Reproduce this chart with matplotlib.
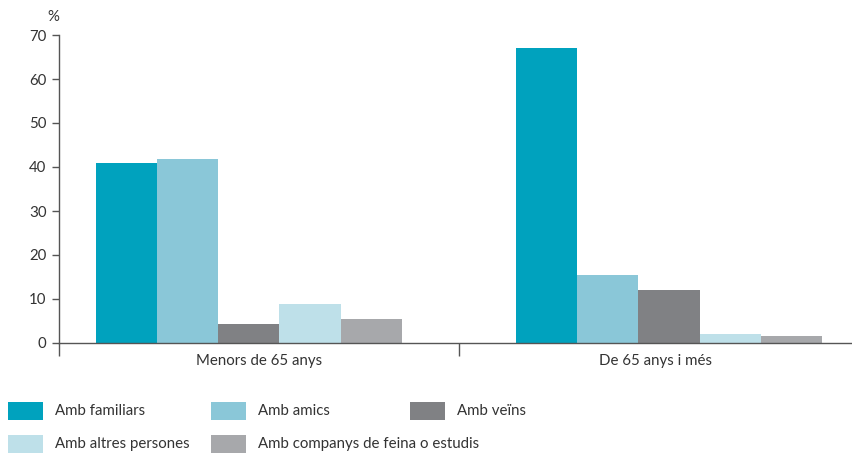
import numpy as np
import matplotlib.pyplot as plt
from matplotlib.patches import Rectangle

plt.rcParams['font.family'] = ['Lato', 'DejaVu Sans']

groups = ['Menors de 65 anys', 'De 65 anys i més']
series = ['Amb familiars', 'Amb amics', 'Amb veïns',
          'Amb altres persones', 'Amb companys de feina o estudis']
familiars = [41.0, 67.0]
amics = [41.8, 15.5]
veins = [4.3, 12.0]
altres = [8.9, 2.0]
companys = [5.5, 1.6]
values = [familiars, amics, veins, altres, companys]
colors = ['#00a2be', '#8ac7d8', '#808184', '#bee0e9', '#a7a8ab']

W, H = 853, 453
fig = plt.figure(figsize=(W / 100, H / 100), dpi=100)
ax = fig.add_axes([59 / W, (H - 343) / H, (853 - 59) / W, (343 - 35) / H])

x = np.arange(len(groups))
bw = 0.1455
for i, (vals, c) in enumerate(zip(values, colors)):
    ax.bar(x + (i - 2) * bw, vals, width=bw, color=c, linewidth=0)

txt = '#333333'
x0, x1 = -0.452, 1.438
ax.set_xlim(x0, x1)
ax.set_ylim(0, 70)
ax.set_yticks(range(0, 71, 10))
ax.spines['top'].set_visible(False)
ax.spines['right'].set_visible(False)
for s in ['left', 'bottom']:
    ax.spines[s].set_color('#555555')
    ax.spines[s].set_linewidth(1.0)
ax.tick_params(axis='y', colors='#555555', labelcolor=txt, labelsize=10.8,
               length=5, width=1, pad=4)
# category labels sit in the middle of each interval
ax.set_xticks([(x0 + 0.5) / 2, (0.5 + x1) / 2])
ax.set_xticklabels(groups)
ax.tick_params(axis='x', length=0, labelsize=10.8, labelcolor=txt, pad=8)
ax.set_xticks([x0, 0.5], minor=True)
ax.tick_params(axis='x', which='minor', length=9, width=1, color='#555555')
ax.text(x0, 72.5, '%', ha='right', va='bottom', fontsize=10.8,
        color=txt, transform=ax.transData)

# legend
leg_pos = [(8, 411), (211, 411), (410, 411), (8, 444), (211, 444)]
for (px, py), name, c in zip(leg_pos, series, colors):
    fig.add_artist(Rectangle((px / W, (H - py - 9) / H), 35 / W, 18 / H,
                             color=c, transform=fig.transFigure, lw=0))
    fig.text((px + 47) / W, (H - py) / H, name, ha='left', va='center',
             fontsize=10.8, color=txt)

fig.savefig('out.png', dpi=100)
